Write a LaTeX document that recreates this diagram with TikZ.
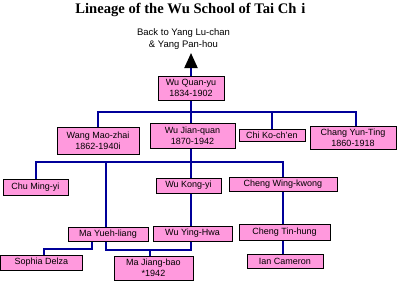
\documentclass[tikz,border=0pt]{standalone}
\usepackage{fontspec}
\setmainfont{Liberation Sans}
\newfontfamily\titlefont{Liberation Serif}
\usetikzlibrary{arrows.meta}
\definecolor{boxpink}{RGB}{255,153,221}
\definecolor{navyline}{RGB}{0,0,153}
\tikzset{
  pbox/.style={draw=black, fill=boxpink, line width=1pt, inner sep=0pt, align=center,
    font=\fontsize{9}{11}\selectfont},
  conn/.style={draw=navyline, line width=2pt},
}
\begin{document}
\begin{tikzpicture}[x=1pt,y=-1pt]
\useasboundingbox (0,0) rectangle (398,284);
\node[anchor=base, font=\titlefont\bfseries\fontsize{14.6}{15}\selectfont] (title) at (190.5,13) {Lineage of the Wu School of Tai Ch\hspace{5pt}i};
\node[anchor=base, align=center, font=\fontsize{9.5}{12}\selectfont] (back) at (183.5,47) {Back to Yang Lu-chan\\\& Yang Pan-hou};
\coordinate (up) at (191,53);
% boxes
\node[pbox, minimum width=66pt, minimum height=24pt] (quan) at (191,88) {Wu Quan-yu\\1834-1902};
\node[pbox, minimum width=82pt, minimum height=27pt] (wang) at (98,140.5) {Wang Mao-zhai\\1862-1940i};
\node[pbox, minimum width=85pt, minimum height=25pt] (jian) at (192.5,135.5) {Wu Jian-quan\\1870-1942};
\node[pbox, minimum width=66pt, minimum height=12pt] (chi) at (272,135) {Chi Ko-ch'en};
\node[pbox, minimum width=86pt, minimum height=23pt] (chang) at (353,137.5) {Chang Yun-Ting\\1860-1918};
\node[pbox, minimum width=65pt, minimum height=16pt] (chu) at (35.5,187) {Chu Ming-yi};
\node[pbox, minimum width=65pt, minimum height=15pt] (kong) at (188.5,185.5) {Wu Kong-yi};
\node[pbox, minimum width=108pt, minimum height=14pt] (wing) at (283,184) {Cheng Wing-kwong};
\node[pbox, minimum width=80pt, minimum height=14pt] (yueh) at (108,234) {Ma Yueh-liang};
\node[pbox, minimum width=79pt, minimum height=15pt] (ying) at (192.5,233.5) {Wu Ying-Hwa};
\node[pbox, minimum width=91pt, minimum height=16pt] (tin) at (284.5,232) {Cheng Tin-hung};
\node[pbox, minimum width=82pt, minimum height=15pt] (sophia) at (41.5,262.5) {Sophia Delza};
\node[pbox, minimum width=79pt, minimum height=24pt] (jiangbao) at (153.5,268) {Ma Jiang-bao\\*1942};
\node[pbox, minimum width=76pt, minimum height=14pt] (ian) at (285,261) {Ian Cameron};
% helper coordinates
\coordinate (bus1) at (0,112);
\coordinate (bus2) at (0,162);
\coordinate (changin) at (356,126);
\coordinate (yuehin) at (106,0);
\coordinate (sophin) at (44,0);
\coordinate (yuehS) at (92,0);
\coordinate (lowbus) at (0,250);
\coordinate (sbus) at (0,249);
\coordinate (jbin) at (150,0);
% connectors
\draw[conn, -{Triangle[width=13pt,length=15pt,color=black,fill=black]}] (quan.north) -- (up);
\draw[conn] (quan.south) -- (quan.south |- jian.north);
\draw[conn] (wang.north) -- (wang.north |- bus1) -- (changin |- bus1) -- (changin);
\draw[conn] (chi.north) -- (chi.north |- bus1);
\draw[conn] (quan.south |- jian.south) -- (quan.south |- kong.north);
\draw[conn] (chu.north) -- (chu.north |- bus2) -- (wing.north |- bus2) -- (wing.north);
\draw[conn] (yuehin |- bus2) -- (yuehin |- yueh.north);
\draw[conn] (quan.south |- kong.south) -- (quan.south |- ying.north);
\draw[conn] (wing.south) -- (wing.south |- tin.north);
\draw[conn] (wing.south |- tin.south) -- (wing.south |- ian.north);
\draw[conn] (yuehS |- yueh.south) -- (yuehS |- sbus) -- (sophin |- sbus) -- (sophin |- sophia.north);
\draw[conn] (yuehin |- yueh.south) -- (yuehin |- lowbus) -- (quan.south |- lowbus) -- (quan.south |- ying.south);
\draw[conn] (jbin |- lowbus) -- (jbin |- jiangbao.north);
\end{tikzpicture}
\end{document}
